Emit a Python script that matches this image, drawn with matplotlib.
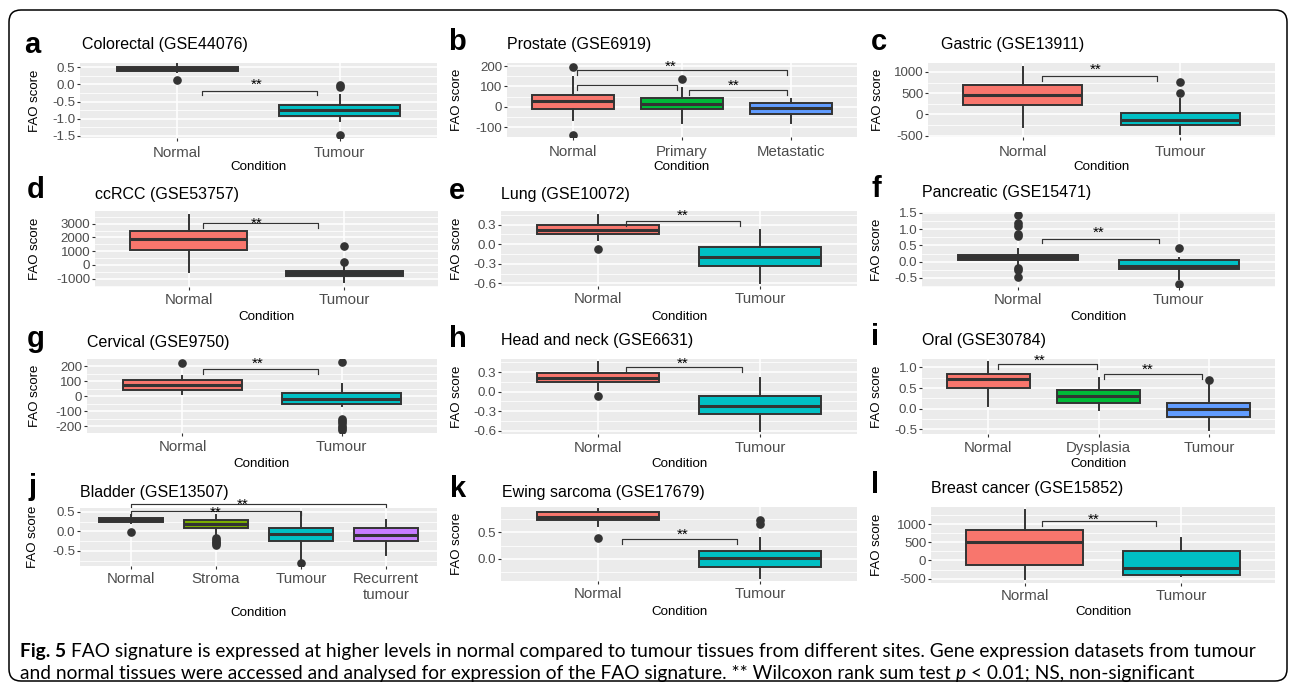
import matplotlib
matplotlib.use('Agg')
import matplotlib.pyplot as plt
from matplotlib.patches import FancyBboxPatch
from matplotlib.ticker import FixedLocator, FormatStrFormatter

plt.rcParams['font.family'] = ['Liberation Sans', 'DejaVu Sans']
plt.rcParams['axes.unicode_minus'] = False

W, H = 1290, 687

# box summaries per group: (lower whisker, Q1, median, Q3, upper whisker)
# significance brackets: (x from, x to, y, label x, label y, label)

colorectal_groups = ['Normal', 'Tumour']
colorectal_box = [(0.36, 0.40, 0.45, 0.50, 0.59), (-1.07, -0.92, -0.76, -0.61, -0.30)]
colorectal_out = [[0.12], [-0.02, -0.09, -1.47]]
colorectal_yticks = [-1.5, -1.0, -0.5, 0.0, 0.5]
colorectal_sig = [(1.15, 1.86, -0.18, 1.49, 0.13, '**')]

prostate_groups = ['Normal', 'Primary', 'Metastatic']
prostate_box = [(-63, -10, 30, 60, 146), (-78, -10, 15, 44, 93), (-78, -34, -8, 20, 39)]
prostate_out = [[195, -137], [136], []]
prostate_yticks = [-100, 0, 100, 200]
prostate_sig = [(1.04, 2.96, 180, 1.90, 220, '**'),
                (1.04, 1.95, 107, 1.50, 140, ''),
                (2.06, 2.96, 83, 2.47, 127, '**')]

gastric_groups = ['Normal', 'Tumour']
gastric_box = [(-289, 228, 450, 696, 1117), (-450, -240, -124, 40, 360)]
gastric_out = [[], [766, 508]]
gastric_yticks = [-500, 0, 500, 1000]
gastric_sig = [(1.12, 1.85, 906, 1.46, 1164, '**')]

ccrcc_groups = ['Normal', 'Tumour']
ccrcc_box = [(-515, 1110, 1910, 2443, 3606), (-1240, -780, -600, -420, -150)]
ccrcc_out = [[], [1350, 212]]
ccrcc_yticks = [-1000, 0, 1000, 2000, 3000]
ccrcc_sig = [(1.09, 1.83, 3070, 1.44, 3330, '**')]

lung_groups = ['Normal', 'Tumour']
lung_box = [(0.06, 0.163, 0.22, 0.29, 0.44), (-0.60, -0.34, -0.20, -0.05, 0.21)]
lung_out = [[-0.07], []]
lung_yticks = [-0.6, -0.3, 0.0, 0.3]
lung_sig = [(1.17, 1.88, 0.36, 1.52, 0.51, '**')]

pancreatic_groups = ['Normal', 'Tumour']
pancreatic_box = [(-0.11, 0.06, 0.14, 0.22, 0.38), (-0.52, -0.22, -0.13, 0.04, 0.12)]
pancreatic_out = [[1.45, 1.2, 1.1, 0.85, 0.8, -0.19, -0.27, -0.47], [0.43, -0.68]]
pancreatic_yticks = [-0.5, 0.0, 0.5, 1.0, 1.5]
pancreatic_sig = [(1.15, 1.875, 0.71, 1.50, 1.03, '**')]

cervical_groups = ['Normal', 'Tumour']
cervical_box = [(18, 44, 73, 107, 133), (-62, -51, -18, 22, 84)]
cervical_out = [[222], [229, -150, -165, -180, -195, -210, -225]]
cervical_yticks = [-200, -100, 0, 100, 200]
cervical_sig = [(1.13, 1.85, 182, 1.47, 249, '**')]

headneck_groups = ['Normal', 'Tumour']
headneck_box = [(0.026, 0.144, 0.216, 0.285, 0.45), (-0.60, -0.35, -0.216, -0.06, 0.206)]
headneck_out = [[-0.067], []]
headneck_yticks = [-0.6, -0.3, 0.0, 0.3]
headneck_sig = [(1.17, 1.89, 0.37, 1.52, 0.50, '**')]

oral_groups = ['Normal', 'Dysplasia', 'Tumour']
oral_box = [(0.07, 0.51, 0.72, 0.85, 1.12), (-0.02, 0.14, 0.30, 0.46, 0.74),
            (-0.51, -0.19, -0.01, 0.14, 0.58)]
oral_out = [[], [], [0.70]]
oral_yticks = [-0.5, 0.0, 0.5, 1.0]
oral_sig = [(1.09, 1.99, 1.08, 1.47, 1.28, '**'), (2.05, 2.94, 0.84, 2.45, 1.06, '**')]

bladder_groups = ['Normal', 'Stroma', 'Tumour', 'Recurrent\ntumour']
bladder_box = [(0.22, 0.25, 0.30, 0.34, 0.41), (-0.06, 0.10, 0.20, 0.29, 0.43),
               (-0.74, -0.25, -0.06, 0.10, 0.50), (-0.61, -0.25, -0.08, 0.10, 0.30)]
bladder_out = [[-0.02], [-0.18, -0.22, -0.26, -0.30, -0.34], [-0.80], []]
bladder_yticks = [-0.5, 0.0, 0.5]
bladder_sig = [(1.0, 4.0, 0.71, 2.31, 0.81, '**'), (1.0, 3.0, 0.53, 2.0, 0.60, '**')]

ewing_groups = ['Normal', 'Tumour']
ewing_box = [(0.62, 0.73, 0.80, 0.88, 0.95), (-0.37, -0.15, 0.02, 0.15, 0.40)]
ewing_out = [[0.40], [0.73, 0.65]]
ewing_yticks = [0.0, 0.5]
ewing_sig = [(1.15, 1.86, 0.37, 1.52, 0.54, '**')]

breast_groups = ['Normal', 'Tumour']
breast_box = [(-500, -120, 518, 843, 1380), (-420, -389, -204, 268, 620)]
breast_out = [[], []]
breast_yticks = [-500, 0, 500, 1000]
breast_sig = [(1.11, 1.84, 1092, 1.44, 1260, '**')]

# ggplot default hue palettes
hue = {2: ['#F8766D', '#00BFC4'],
       3: ['#F8766D', '#00BA38', '#619CFF'],
       4: ['#F8766D', '#7CAE00', '#00BFC4', '#C77CFF']}

DARK = '#333333'

fig = plt.figure(figsize=(W / 100, H / 100), dpi=100)


def fy(y):
    return 1 - y / H


def draw_panel(letter, title, groups, box, out, yticks, fmt, ylim, sig,
               rect, letter_xy, title_xy, ylab_x, xlab_y, xpad=2.0):
    x0, y0, x1, y1 = rect
    ax = fig.add_axes([x0 / W, fy(y1), (x1 - x0) / W, (y1 - y0) / H])
    ax.set_facecolor('#EBEBEB')
    for s in ax.spines.values():
        s.set_visible(False)

    n = len(groups)
    stats = [dict(whislo=b[0], q1=b[1], med=b[2], q3=b[3], whishi=b[4], fliers=o)
             for b, o in zip(box, out)]
    bp = ax.bxp(stats, positions=list(range(1, n + 1)), widths=0.75,
                patch_artist=True, showcaps=False,
                boxprops=dict(edgecolor=DARK, linewidth=1.4),
                whiskerprops=dict(color=DARK, linewidth=1.4),
                medianprops=dict(color=DARK, linewidth=2.2),
                flierprops=dict(marker='o', markerfacecolor=DARK,
                                markeredgecolor=DARK, markersize=5.2))
    for patch, col in zip(bp['boxes'], hue[n]):
        patch.set_facecolor(col)

    ax.set_xlim(0.4, n + 0.6)
    ax.set_ylim(*ylim)
    ax.set_xticks(list(range(1, n + 1)), labels=groups)
    ax.set_yticks(yticks)
    ax.yaxis.set_major_formatter(FormatStrFormatter(fmt))
    step = yticks[1] - yticks[0]
    mids = [yticks[0] - step / 2] + [t + step / 2 for t in yticks]
    ax.yaxis.set_minor_locator(FixedLocator(mids))
    ax.grid(True, which='major', color='white', linewidth=1.1)
    ax.grid(True, which='minor', axis='y', color='white', linewidth=0.55)
    ax.set_axisbelow(True)
    ax.tick_params(which='major', length=2.2, width=0.8, color=DARK, pad=1.2,
                   labelcolor='#4D4D4D')
    ax.tick_params(axis='x', labelsize=10.8, pad=xpad)
    ax.tick_params(axis='y', labelsize=9.6)
    ax.tick_params(which='minor', length=0)

    tip = 0.065 * (ylim[1] - ylim[0])
    for bx1, bx2, by, lx, ly, lab in sig:
        ax.plot([bx1, bx1, bx2, bx2], [by - tip, by, by, by - tip],
                color=DARK, linewidth=0.85, clip_on=False)
        if lab:
            ax.annotate(lab, (lx, ly), xytext=(0, -6.4), textcoords='offset points',
                        ha='center', va='baseline', fontsize=11, annotation_clip=False)

    fig.text(letter_xy[0] / W, fy(letter_xy[1]), letter, fontsize=21,
             fontweight='bold', ha='left', va='baseline')
    fig.text(title_xy[0] / W, fy(title_xy[1]), title, fontsize=11.5,
             ha='left', va='center')
    fig.text(ylab_x / W, fy((y0 + y1) / 2), 'FAO score', fontsize=9.5,
             rotation=90, ha='center', va='center')
    fig.text((x0 + x1) / 2 / W, fy(xlab_y), 'Condition', fontsize=9.6,
             ha='center', va='center')


draw_panel('a', 'Colorectal (GSE44076)', colorectal_groups, colorectal_box, colorectal_out,
           colorectal_yticks, '%.1f', (-1.56, 0.62), colorectal_sig,
           (80, 63, 437, 138), (24, 53), (82, 44), 35, 167, xpad=3.5)
draw_panel('b', 'Prostate (GSE6919)', prostate_groups, prostate_box, prostate_out,
           prostate_yticks, '%d', (-149, 215), prostate_sig,
           (507, 63, 857, 137), (448, 50), (507, 45), 457, 167, xpad=3.5)
draw_panel('c', 'Gastric (GSE13911)', gastric_groups, gastric_box, gastric_out,
           gastric_yticks, '%d', (-530, 1210), gastric_sig,
           (928, 63, 1275, 137), (871, 50), (941, 45), 878, 167, xpad=3.5)

draw_panel('d', 'ccRCC (GSE53757)', ccrcc_groups, ccrcc_box, ccrcc_out,
           ccrcc_yticks, '%d', (-1606, 3920), ccrcc_sig,
           (95, 211, 438, 287), (27, 198), (95, 195), 35, 317)
draw_panel('e', 'Lung (GSE10072)', lung_groups, lung_box, lung_out,
           lung_yticks, '%.1f', (-0.64, 0.508), lung_sig,
           (501, 211, 857, 286), (449, 199), (501, 194), 457, 317)
draw_panel('f', 'Pancreatic (GSE15471)', pancreatic_groups, pancreatic_box, pancreatic_out,
           pancreatic_yticks, '%.1f', (-0.78, 1.53), pancreatic_sig,
           (922, 212, 1275, 287), (871, 197), (922, 193), 877, 317)

draw_panel('g', 'Cervical (GSE9750)', cervical_groups, cervical_box, cervical_out,
           cervical_yticks, '%d', (-244, 249), cervical_sig,
           (87, 359, 437, 433), (27, 347), (87, 342), 35, 464, xpad=3.0)
draw_panel('h', 'Head and neck (GSE6631)', headneck_groups, headneck_box, headneck_out,
           headneck_yticks, '%.1f', (-0.65, 0.50), headneck_sig,
           (501, 359, 857, 434), (449, 347), (501, 341), 457, 464, xpad=3.0)
draw_panel('i', 'Oral (GSE30784)', oral_groups, oral_box, oral_out,
           oral_yticks, '%.1f', (-0.61, 1.20), oral_sig,
           (922, 359, 1275, 434), (871, 345), (922, 341), 877, 464, xpad=3.0)

draw_panel('j', 'Bladder (GSE13507)', bladder_groups, bladder_box, bladder_out,
           bladder_yticks, '%.1f', (-0.885, 0.60), bladder_sig,
           (80, 508, 437, 566), (29, 495), (80, 492), 33, 613)
draw_panel('k', 'Ewing sarcoma (GSE17679)', ewing_groups, ewing_box, ewing_out,
           ewing_yticks, '%.1f', (-0.42, 0.98), ewing_sig,
           (501, 507, 857, 581), (450, 497), (502, 492), 457, 612)
draw_panel('l', 'Breast cancer (GSE15852)', breast_groups, breast_box, breast_out,
           breast_yticks, '%d', (-620, 1472), breast_sig,
           (931, 507, 1275, 583), (871, 493), (931, 489), 877, 612)

# rounded frame around the whole figure
frame = FancyBboxPatch((0.09, 0.06), 12.78, 6.71,
                       boxstyle='round,pad=0,rounding_size=0.12',
                       transform=fig.dpi_scale_trans, facecolor='none',
                       edgecolor='black', linewidth=1.1)
fig.patches.append(frame)

# caption, set run by run so bold and italic pieces sit inline
cap_family = ['Lato', 'DejaVu Sans']
renderer = fig.canvas.get_renderer()
line1 = [('Fig. 5', 'bold', 'normal'),
         ('FAO signature is expressed at higher levels in normal compared to tumour tissues '
          'from different sites. Gene expression datasets from tumour', 'normal', 'normal')]
line2 = [('and normal tissues were accessed and analysed for expression of the FAO signature. '
          '** Wilcoxon rank sum test', 'normal', 'normal'),
         ('p', 'normal', 'italic'),
         ('< 0.01; NS, non-significant', 'normal', 'normal')]


def measure(s, size, weight='normal', style='normal'):
    t = fig.text(0, 0, s, fontsize=size, family=cap_family, fontweight=weight, fontstyle=style)
    w = t.get_window_extent(renderer).width
    t.remove()
    return w


probe = 10.0
full = sum(measure(s, probe, wt, st) for s, wt, st in line1) + measure('a a', probe) - measure('aa', probe)
cap_size = probe * 1242 / full
gap = measure('a a', cap_size) - measure('aa', cap_size)


def caption_line(parts, y):
    x = 20
    for s, wt, st in parts:
        t = fig.text(x / W, fy(y), s, fontsize=cap_size, family=cap_family,
                     fontweight=wt, fontstyle=st, ha='left', va='center')
        x += t.get_window_extent(renderer).width + gap


caption_line(line1, 652)
caption_line(line2, 674)

fig.savefig('out.png', dpi=100)
